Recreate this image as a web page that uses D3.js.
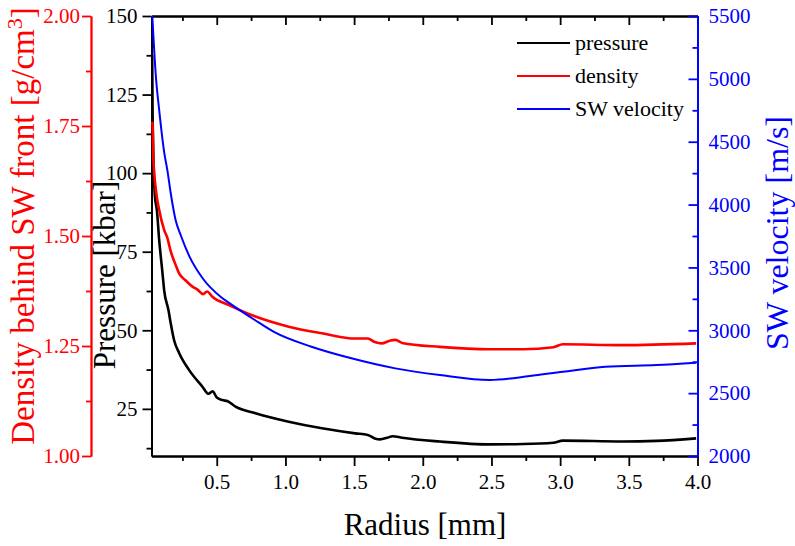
<!DOCTYPE html>
<html lang="en">
<head>
  <meta charset="UTF-8">
  <title>Shock wave parameters vs radius</title>
  <style>
    html, body { margin: 0; padding: 0; background: #fff; }
    #svg { display: block; }
    #svg text { font-family: "Liberation Serif", "Times New Roman", serif !important; }
  </style>
</head>
<body>
  <svg id="svg" width="795" height="546"></svg>

  <script src="https://cdn.jsdelivr.net/npm/d3@7"></script>
  <script>
    // tick values
    const xMajor = [0.5, 1.0, 1.5, 2.0, 2.5, 3.0, 3.5, 4.0]
    const xMinor = [0.25, 0.75, 1.25, 1.75, 2.25, 2.75, 3.25, 3.75]
    const pressureTicks = [25, 50, 75, 100, 125, 150]
    const pressureMinor = [12.5, 37.5, 62.5, 87.5, 112.5, 137.5]
    const densityTicks = [1.00, 1.25, 1.50, 1.75, 2.00]
    const densityMinor = [1.125, 1.375, 1.625, 1.875]
    const velocityTicks = [2000, 2500, 3000, 3500, 4000, 4500, 5000, 5500]
    const velocityMinor = [2250, 2750, 3250, 3750, 4250, 4750, 5250]

    // pressure [kbar] vs radius [mm]
    const pressureR = [0.030, 0.033, 0.050, 0.064, 0.081, 0.105, 0.117, 0.149, 0.165, 0.189, 0.226, 0.298,
      0.395, 0.44, 0.47, 0.50, 0.541, 0.58, 0.637, 0.782, 1.024, 1.266, 1.508, 1.60, 1.65, 1.69, 1.74, 1.78, 1.85,
      2.125, 2.49, 2.73, 2.95, 3.02, 3.455, 3.70, 3.99]
    const pressure = [137.6, 119, 92.5, 88.3, 78.7, 68.2, 62.8, 56.3, 52.2, 46.9, 42.8, 37.4,
      32.1, 29.8, 30.6, 28.6, 27.8, 27.4, 25.7, 23.6, 20.9, 18.8, 17.2, 16.7, 15.6, 15.3, 15.8, 16.3, 15.8,
      14.6, 13.7, 13.8, 14.2, 14.9, 14.6, 14.8, 15.6]

    // density behind SW front [g/cm3]
    const densityR = [0.031, 0.034, 0.038, 0.057, 0.081, 0.117, 0.141, 0.165, 0.20, 0.226, 0.27, 0.323,
      0.36, 0.40, 0.43, 0.468, 0.589, 0.782, 1.024, 1.266, 1.508, 1.60, 1.65, 1.70, 1.76, 1.80, 1.85,
      2.125, 2.49, 2.73, 2.95, 3.02, 3.455, 3.99]
    const density = [1.760, 1.740, 1.680, 1.605, 1.559, 1.514, 1.495, 1.465, 1.435, 1.415, 1.400, 1.385,
      1.378, 1.368, 1.374, 1.362, 1.343, 1.317, 1.294, 1.279, 1.267, 1.267, 1.259, 1.256, 1.262, 1.264, 1.257,
      1.248, 1.2425, 1.2425, 1.247, 1.254, 1.252, 1.256]

    // SW velocity [m/s]
    const velocityR = [0.028, 0.057, 0.081, 0.117, 0.141, 0.165, 0.20, 0.24, 0.30, 0.40, 0.53, 0.60,
      0.78, 0.92, 1.19, 1.48, 1.80, 2.125, 2.49, 2.78, 3.02, 3.33, 3.70, 3.99]
    const velocity = [5560, 5017, 4752, 4420, 4270, 4090, 3880, 3750, 3590, 3410, 3265, 3210,
      3080, 2985, 2869, 2777, 2697, 2644, 2604, 2636, 2670, 2710, 2724, 2742]

    const plotLeft = 151.5, plotRight = 697.5, plotTop = 16, plotBottom = 456
    const svg = d3.select('#svg')

    const x = d3.scaleLinear().domain([0.025, 4.0]).range([plotLeft, plotRight])
    const yP = d3.scaleLinear().domain([10, 150]).range([plotBottom, plotTop])
    const yD = d3.scaleLinear().domain([1.0, 2.0]).range([plotBottom, plotTop])
    const yV = d3.scaleLinear().domain([2000, 5500]).range([plotBottom, plotTop])

    svg.append('clipPath').attr('id', 'plot-clip')
      .append('rect')
      .attr('x', plotLeft - 1).attr('y', plotTop)
      .attr('width', plotRight - plotLeft + 1).attr('height', plotBottom - plotTop)

    const styleAxis = (g, color, size) => {
      g.attr('font-family', null)
      g.selectAll('path, line').attr('stroke', color).attr('stroke-width', 1.8)
      g.selectAll('text').attr('fill', color).attr('font-size', size)
    }

    // bottom axis
    svg.append('g').attr('transform', `translate(0,${plotBottom})`)
      .call(d3.axisBottom(x).tickValues(xMinor).tickSize(5).tickFormat('').tickSizeOuter(0))
      .call(g => styleAxis(g, '#000', 21))
    svg.append('g').attr('transform', `translate(0,${plotBottom})`)
      .call(d3.axisBottom(x).tickValues(xMajor).tickSize(10).tickPadding(8).tickFormat(d3.format('.1f')).tickSizeOuter(0))
      .call(g => styleAxis(g, '#000', 21))

    // top axis (ticks inward, no labels)
    svg.append('g').attr('transform', `translate(0,${plotTop})`)
      .call(d3.axisTop(x).tickValues(xMinor).tickSize(-5).tickFormat('').tickSizeOuter(0))
      .call(g => styleAxis(g, '#000', 21))
    svg.append('g').attr('transform', `translate(0,${plotTop})`)
      .call(d3.axisTop(x).tickValues(xMajor).tickSize(-9).tickFormat('').tickSizeOuter(0))
      .call(g => styleAxis(g, '#000', 21))

    // pressure axis
    svg.append('g').attr('transform', `translate(${plotLeft},0)`)
      .call(d3.axisLeft(yP).tickValues(pressureMinor).tickSize(5).tickFormat('').tickSizeOuter(0))
      .call(g => styleAxis(g, '#000', 21))
    svg.append('g').attr('transform', `translate(${plotLeft},0)`)
      .call(d3.axisLeft(yP).tickValues(pressureTicks).tickSize(9).tickPadding(5).tickSizeOuter(0))
      .call(g => styleAxis(g, '#000', 21))

    // density axis
    const dAxisX = 91
    svg.append('g').attr('transform', `translate(${dAxisX},0)`)
      .call(d3.axisLeft(yD).tickValues(densityMinor).tickSize(5).tickFormat('').tickSizeOuter(0))
      .call(g => styleAxis(g, '#ff0000', 21))
    svg.append('g').attr('transform', `translate(${dAxisX},0)`)
      .call(d3.axisLeft(yD).tickValues(densityTicks).tickSize(9).tickPadding(2).tickFormat(d3.format('.2f')).tickSizeOuter(0))
      .call(g => styleAxis(g, '#ff0000', 21))

    // velocity axis (ticks inward)
    svg.append('g').attr('transform', `translate(${plotRight},0)`)
      .call(d3.axisRight(yV).tickValues(velocityMinor).tickSize(-5).tickFormat('').tickSizeOuter(0))
      .call(g => styleAxis(g, '#0000ff', 21))
    svg.append('g').attr('transform', `translate(${plotRight},0)`)
      .call(d3.axisRight(yV).tickValues(velocityTicks).tickSize(-9).tickPadding(11).tickFormat(d3.format('d')).tickSizeOuter(0))
      .call(g => styleAxis(g, '#0000ff', 21))

    // curves, drawn over the axes
    const series = [
      { r: pressureR, v: pressure, y: yP, color: '#000000', w: 2.6 },
      { r: densityR, v: density, y: yD, color: '#ff0000', w: 2.6 },
      { r: velocityR, v: velocity, y: yV, color: '#0000ff', w: 2 }
    ]
    const curves = svg.append('g').attr('clip-path', 'url(#plot-clip)')
    series.forEach(s => {
      const line = d3.line()
        .x(i => x(s.r[i]))
        .y(i => s.y(s.v[i]))
        .curve(d3.curveMonotoneX)
      curves.append('path')
        .attr('d', line(d3.range(s.r.length)))
        .attr('fill', 'none')
        .attr('stroke', s.color)
        .attr('stroke-width', s.w)
        .attr('stroke-linejoin', 'round')
    })

    // axis titles
    svg.append('text')
      .attr('x', 425).attr('y', 535)
      .attr('text-anchor', 'middle').attr('font-size', 31).attr('fill', '#000')
      .text('Radius [mm]')

    svg.append('text')
      .attr('transform', 'translate(115,275) rotate(-90)')
      .attr('text-anchor', 'middle').attr('font-size', 31).attr('fill', '#000')
      .text('Pressure [kbar]')

    const dTitle = svg.append('text')
      .attr('transform', 'translate(34,226) rotate(-90)')
      .attr('text-anchor', 'middle').attr('font-size', 33).attr('fill', '#ff0000')
    dTitle.append('tspan').text('Density behind SW front [g/cm')
    dTitle.append('tspan').attr('font-size', 22).attr('dy', -12).text('3')
    dTitle.append('tspan').attr('dy', 12).text(']')

    svg.append('text')
      .attr('transform', 'translate(788,233) rotate(-90)')
      .attr('text-anchor', 'middle').attr('font-size', 32).attr('fill', '#0000ff')
      .text('SW velocity [m/s]')

    // legend
    const legendNames = ['pressure', 'density', 'SW velocity']
    const legendColors = ['#000000', '#ff0000', '#0000ff']
    const legend = svg.append('g')
    legendNames.forEach((name, i) => {
      const ly = 43 + i * 33
      legend.append('line')
        .attr('x1', 517).attr('x2', 570).attr('y1', ly).attr('y2', ly)
        .attr('stroke', legendColors[i]).attr('stroke-width', 2)
      legend.append('text')
        .attr('x', 575).attr('y', ly + 7)
        .attr('font-size', 22).attr('fill', '#000')
        .text(name)
    })
  </script>
</body>
</html>
